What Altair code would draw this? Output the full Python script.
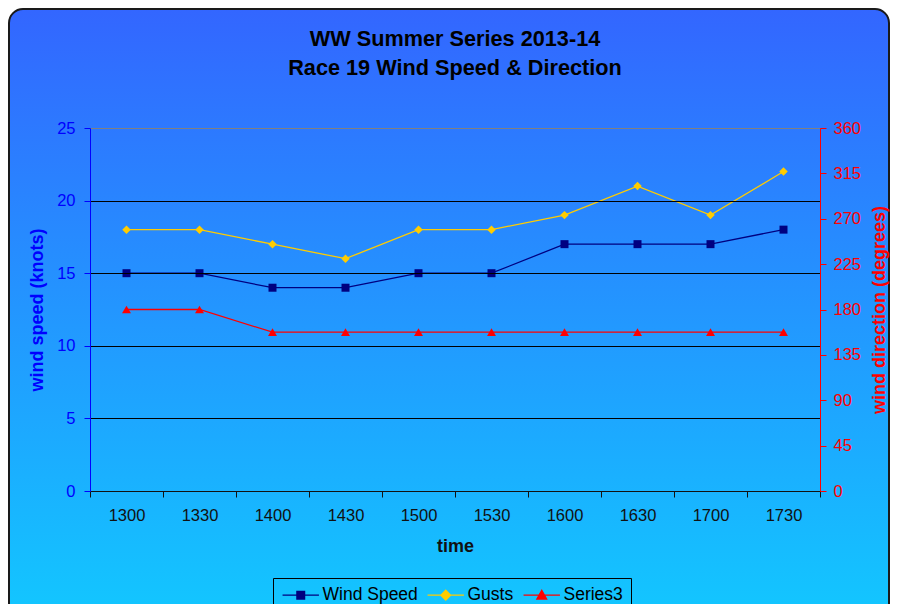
import altair as alt
import pandas as pd

# ---- data ----
times = ["1300", "1330", "1400", "1430", "1500", "1530", "1600", "1630", "1700", "1730"]
wind_speed = [15, 15, 14, 14, 15, 15, 17, 17, 17, 18]
gusts = [18, 18, 17, 16, 18, 18, 19, 21, 19, 22]
direction = [180, 180, 157.5, 157.5, 157.5, 157.5, 157.5, 157.5, 157.5, 157.5]

series_names = ["Wind Speed", "Gusts", "Series3"]
series_colors = ["#000080", "#FFCC00", "#FF0000"]
series_shapes = ["square", "diamond", "triangle-up"]
series_sizes = [64, 80, 80]
speed_ticks = [0, 5, 10, 15, 20, 25]
dir_ticks = [0, 45, 90, 135, 180, 225, 270, 315, 360]

# legend glyphs: a short line with the marker in the middle
legend_paths = [
    "M-2.6,0H2.6M-0.55,-0.55H0.55V0.55H-0.55Z",
    "M-2.6,0H2.6M0,-0.7L0.7,0L0,0.7L-0.7,0Z",
    "M-2.6,0H2.6M0,-0.7L0.7,0.55H-0.7Z",
]

left_df = pd.DataFrame({
    "time": times * 2,
    "value": wind_speed + gusts,
    "series": ["Wind Speed"] * len(times) + ["Gusts"] * len(times),
})
right_df = pd.DataFrame({
    "time": times,
    "value": direction,
    "series": ["Series3"] * len(times),
})
legend_df = pd.DataFrame({"series": series_names})

FONT = "Liberation Sans"
W, H = 730, 363
PAD_L, PAD_T, PAD_R, PAD_B = 82, 120, 70, 113

legend = alt.Legend(
    title=None,
    orient="none",
    legendX=183,
    legendY=450,
    direction="horizontal",
    columns=3,
    labelFont=FONT,
    labelFontSize=17.5,
    labelColor="#000000",
    labelOffset=13,
    symbolSize=196,
    symbolOffset=11,
    symbolStrokeWidth=1.3,
    columnPadding=6,
    padding=8,
    strokeColor="#000000",
    fillColor="transparent",
    cornerRadius=0,
)

color_scale = alt.Scale(domain=series_names, range=series_colors)
color_enc = alt.Color("series:N", scale=color_scale, legend=None)
shape_enc = alt.Shape("series:N", scale=alt.Scale(domain=series_names, range=series_shapes), legend=None)
size_enc = alt.Size("series:N", scale=alt.Scale(domain=series_names, range=series_sizes), legend=None)

x_enc = alt.X(
    "time:N",
    sort=times,
    scale=alt.Scale(type="band", paddingInner=0, paddingOuter=0),
    axis=alt.Axis(
        title="time",
        tickBand="extent",
        labelAngle=0,
        labelFont=FONT,
        labelFontSize=16.5,
        labelColor="#111111",
        labelPadding=10,
        titleFont=FONT,
        titleFontSize=18,
        titleFontWeight="bold",
        titleColor="#111111",
        titlePadding=14,
        domainColor="#111111",
        tickColor="#111111",
        tickSize=6,
        grid=False,
        zindex=1,
    ),
)

y_left = alt.Y(
    "value:Q",
    scale=alt.Scale(domain=[0, 25], nice=False, zero=True),
    axis=alt.Axis(
        orient="left",
        title="wind speed (knots)",
        values=speed_ticks,
        grid=True,
        gridColor={"condition": {"test": "datum.value === 25", "value": "#808080"}, "value": "#000000"},
        gridWidth=1.2,
        gridOpacity=1,
        domainColor="#0000FF",
        tickColor="#0000FF",
        tickSize=6,
        labelColor="#0000FF",
        labelFont=FONT,
        labelFontSize=16.5,
        labelPadding=9,
        titleColor="#0000FF",
        titleFont=FONT,
        titleFontSize=18,
        titleFontWeight="bold",
        titlePadding=10,
        zindex=1,
    ),
)

y_right = alt.Y(
    "value:Q",
    scale=alt.Scale(domain=[0, 360], nice=False, zero=True),
    axis=alt.Axis(
        orient="right",
        title="wind direction (degrees)",
        values=dir_ticks,
        grid=False,
        domainColor="#FF0000",
        tickColor="#FF0000",
        tickSize=6,
        labelColor="#FF0000",
        labelFont=FONT,
        labelFontSize=16.5,
        labelPadding=7,
        titleColor="#FF0000",
        titleFont=FONT,
        titleFontSize=18,
        titleFontWeight="bold",
        titleAngle=270,
        titleBaseline="top",
        titlePadding=10,
        zindex=1,
    ),
)

background = alt.Chart(pd.DataFrame({"k": [0]})).mark_rect(
    cornerRadius=14,
    stroke="#1a1a1a",
    strokeWidth=2,
    fill=alt.Gradient(
        gradient="linear",
        stops=[
            alt.GradientStop(color="#3366FF", offset=0),
            alt.GradientStop(color="#12C8FF", offset=1),
        ],
        x1=0, x2=0, y1=0, y2=1,
    ),
).encode(
    x=alt.value(-PAD_L + 1),
    x2=alt.value(W + PAD_R - 1),
    y=alt.value(-PAD_T + 1),
    y2=alt.value(H + PAD_B + 20),
)

left_lines = alt.Chart(left_df).mark_line(strokeWidth=1.3).encode(
    x=x_enc, y=y_left, color=color_enc, detail="series:N"
)
left_points = alt.Chart(left_df).mark_point(filled=True, opacity=1).encode(
    x=x_enc, y=y_left, color=color_enc, shape=shape_enc, size=size_enc
)
right_lines = alt.Chart(right_df).mark_line(strokeWidth=1.3).encode(
    x=x_enc, y=y_right, color=color_enc
)
right_points = alt.Chart(right_df).mark_point(filled=True, opacity=1).encode(
    x=x_enc, y=y_right, color=color_enc, shape=shape_enc, size=size_enc
)

# legend-only layer (draws no marks; its scales build the legend)
legend_layer = alt.Chart(legend_df).transform_filter("false").mark_point(
    filled=True, opacity=1
).encode(
    color=alt.Color("series:N", scale=color_scale, legend=legend),
    stroke=alt.Stroke("series:N", scale=color_scale, legend=legend),
    shape=alt.Shape("series:N", scale=alt.Scale(domain=series_names, range=legend_paths), legend=legend),
)

left = alt.layer(left_lines, left_points)
right = alt.layer(right_lines, right_points)

chart = alt.layer(background, left, right, legend_layer).resolve_scale(
    y="independent", color="independent", shape="independent", stroke="independent"
).properties(
    width=W,
    height=H,
    padding={"left": PAD_L, "top": PAD_T, "right": PAD_R, "bottom": PAD_B},
    autosize=alt.AutoSizeParams(type="none"),
    title=alt.TitleParams(
        text=["WW Summer Series 2013-14", "Race 19 Wind Speed & Direction"],
        font=FONT,
        fontSize=21.7,
        fontWeight="bold",
        color="#000000",
        anchor="middle",
        lineHeight=29,
        offset=-72,
        zindex=1,
    ),
).configure_view(
    stroke=None
).configure(background="#FFFFFF")

chart.save("out.html", embed_options={"renderer": "svg", "actions": False})
